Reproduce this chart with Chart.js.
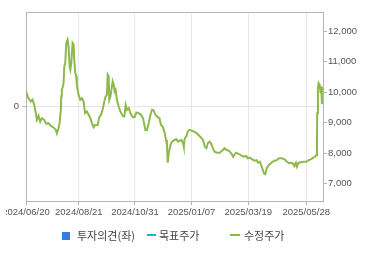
<!DOCTYPE html>
<html><head><meta charset="utf-8">
<script src="https://cdn.jsdelivr.net/npm/chart.js@4.4.0/dist/chart.umd.min.js"></script>
<style>
html,body{margin:0;padding:0;background:#fff;}
#wrap{position:relative;width:370px;height:255px;overflow:hidden;background:#fff;}
#c{position:absolute;left:0;top:0;}
.lg{position:absolute;font-family:"Noto Sans CJK KR","Noto Sans",sans-serif;font-size:11px;line-height:14px;color:#444;white-space:nowrap;top:228px;}
.sw{position:absolute;}
#cut{position:absolute;left:0;top:205px;width:6px;height:15px;background:#fff;}
</style></head>
<body><div id="wrap">
<canvas id="c" width="370" height="255"></canvas>
<div id="cut"></div>
<div class="sw" style="left:62px;top:232px;width:8px;height:8px;background:#2f7fe0;"></div>
<div class="lg" style="left:77px;">투자의견(좌)</div>
<div class="sw" style="left:147px;top:234px;width:9px;height:2px;background:#22b0c4;"></div>
<div class="lg" style="left:159px;">목표주가</div>
<div class="sw" style="left:230px;top:234px;width:10px;height:2px;background:#8db94c;"></div>
<div class="lg" style="left:244px;">수정주가</div>
</div>
<script>
const tickLabels = ['2024/06/20','2024/08/21','2024/10/31','2025/01/07','2025/03/19','2025/05/28'];
const tickDays = [0, 44.7, 92.2, 140, 188, 237.1];
const priceTicks = [7000, 8000, 9000, 10000, 11000, 12000];
const opinionTicks = [0];

const dayIndex = [0,2,4,5.5,7,8.3,9.2,10.6,12,13.4,
15.4,17.1,19.1,21,23.3,25.3,26.1,27.5,28.4,29.5,
29.8,30.3,31.2,31.8,32.4,33.2,34.1,35.2,36,36.9,
37.5,38.3,39.4,40.3,40.8,41.7,42.5,43,44.5,45.9,
47.3,48.7,50,51.5,53,54.4,55.8,57.2,58.6,60.6,
62,63.4,64.8,66.3,67.4,68.5,69.1,69.9,70.5,71.4,
72.5,73.3,74.2,75,75.8,76.9,78.4,79.8,81.8,83.2,
84.3,85.4,86.9,88.3,90.3,91.9,93.4,95.3,97.3,99,
101,102.4,103.8,105.3,106.6,108,109.5,111.4,112.9,114.2,
115.7,117.1,118.5,119.3,119.9,120.8,122.2,123.6,125.6,127.3,
128.6,130.1,131.5,132.9,133.5,134.3,135.8,136.9,138.3,140.5,
141.9,143.9,145.3,146.8,148.1,149.8,151.3,152.7,153.8,155.3,
156.6,158.1,159.5,161.7,164,165.9,168,169.7,171.6,173.6,
175.3,176.7,177.8,180.1,182,184.3,186.3,187.7,189.4,191.4,
193.4,195.1,196.4,197.9,199,200.4,201.3,202.4,203.6,205.3,
207.2,208.6,210.3,212.3,214.2,216.5,218.8,220.8,222.7,224.4,
225.8,226.9,228.4,229.2,230.7,232.9,234.9,236.9,239.2,241.4,
243.4,244.7,245.6,246.2,246.4,247,247.6,248.5,249.3,249.8,
250.4];

const adjPrice = [10020,9800,9690,9750,9580,9310,9090,9220,9030,9145,
9090,8960,8980,8890,8840,8760,8650,8815,8980,9420,
9855,10075,10185,10295,10840,10950,11610,11720,11500,10840,
10735,10950,11610,11555,11060,10625,10515,10240,9910,9750,
9800,9690,9310,9365,9255,9145,8980,8850,8925,8925,
9180,9255,9420,9690,9855,9910,10570,10515,9750,9855,
10130,10350,10240,10020,10075,9750,9525,9365,9220,9200,
9580,9420,9475,9310,9180,9180,9330,9310,9255,9145,
8760,8760,8980,9255,9420,9400,9255,9180,9145,8925,
8870,8705,8430,8265,7685,7995,8265,8375,8430,8455,
8375,8410,8430,8320,8210,8485,8560,8705,8760,8735,
8705,8670,8620,8560,8505,8430,8210,8160,8320,8375,
8320,8160,8045,8015,8015,8080,8160,8100,8080,7995,
7880,7970,8015,7970,7925,7880,7905,7830,7850,7795,
7750,7770,7685,7715,7605,7445,7335,7310,7500,7605,
7665,7715,7750,7770,7830,7830,7795,7715,7665,7685,
7665,7575,7685,7555,7685,7700,7715,7715,7770,7805,
7860,7880,7935,8265,9310,10130,10295,10240,9965,10185,
9600];

const opinion = [];
const targetPrice = [];

const tickFont = {family:'"Liberation Sans", Arial, sans-serif', size:9.5};
const tickColor = '#555';
const axisColor = '#b5b5b5';
const gridColor = '#e8e8e8';

const frameTop = {id:'frameTop', afterDraw(c){
  const a=c.chartArea, ctx=c.ctx;
  ctx.save(); ctx.strokeStyle=axisColor; ctx.lineWidth=1;
  ctx.beginPath(); ctx.moveTo(a.left, Math.round(a.top)+0.5); ctx.lineTo(a.right, Math.round(a.top)+0.5); ctx.stroke();
  ctx.restore();
}};

new Chart(document.getElementById('c'), {
  data: {
    datasets: [
      {type:'bar', label:'투자의견(좌)', data: opinion, yAxisID:'yL', backgroundColor:'#2f7fe0'},
      {type:'line', label:'목표주가', data: targetPrice, yAxisID:'y', borderColor:'#22b0c4', pointRadius:0},
      {type:'line', label:'수정주가', data: dayIndex.map((d,i)=>({x:d, y:adjPrice[i]})), yAxisID:'y',
       borderColor:'#8db94c', borderWidth:2, pointRadius:0, tension:0, fill:false}
    ]
  },
  options: {
    responsive:false, animation:false, devicePixelRatio:1,
    layout:{padding:{top:12, bottom:34, left:0, right:0}},
    plugins:{legend:{display:false}, tooltip:{enabled:false}},
    scales:{
      x:{type:'linear', min:0, max:251.3, offset:false,
        afterBuildTicks(s){ s.ticks = tickDays.map(v=>({value:v})); },
        ticks:{autoSkip:false, maxRotation:0, minRotation:0, font:tickFont, color:tickColor, padding:2,
          callback(v){ const i = tickDays.indexOf(v); return i>=0 ? tickLabels[i] : ''; }},
        grid:{color:gridColor, tickLength:4, tickColor:axisColor, offset:false},
        border:{color:axisColor},
        afterFit(s){ s.height = 20; }
      },
      yL:{type:'linear', position:'left', min:-1, max:1,
        afterBuildTicks(s){ s.ticks = opinionTicks.map(v=>({value:v})); },
        ticks:{font:tickFont, color:tickColor, padding:3},
        grid:{color:gridColor, tickLength:4, tickColor:axisColor},
        border:{color:axisColor},
        afterFit(s){ s.width = 26; }
      },
      y:{type:'linear', position:'right', min:6430, max:12625,
        afterBuildTicks(s){ s.ticks = priceTicks.map(v=>({value:v})); },
        ticks:{font:tickFont, color:tickColor, padding:1,
          callback(v){ return v.toLocaleString('en-US'); }},
        grid:{drawOnChartArea:false, tickLength:4, color:axisColor},
        border:{color:axisColor},
        afterFit(s){ s.width = 47; }
      }
    }
  },
  plugins:[frameTop]
});
</script>
</body></html>
